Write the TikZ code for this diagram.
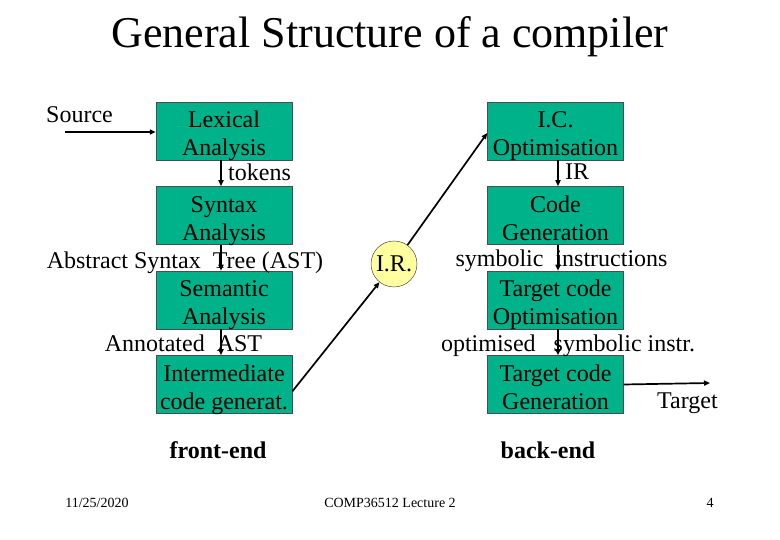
\documentclass[tikz,border=0pt]{standalone}
\usepackage{fontspec}
\setmainfont{Liberation Serif}
\usetikzlibrary{positioning,arrows.meta}
\definecolor{phasegreen}{RGB}{0,178,137}
\definecolor{iryellow}{RGB}{255,255,160}
\newcommand\phasetext[2]{\rule{0pt}{28pt}#1\\#2\rule[-6pt]{0pt}{6pt}}
\tikzset{
  phase/.style={draw=black!70, line width=0.5pt, fill=phasegreen, minimum width=136pt, minimum height=58pt, inner xsep=0pt, inner ysep=-2pt, align=center, font=\fontsize{24}{28}\selectfont},
  lbl/.style={inner sep=0pt, font=\fontsize{24}{28}\selectfont},
  flow/.style={line width=1.7pt, -{Triangle[length=6pt,width=5pt]}}
}
\begin{document}
\begin{tikzpicture}[x=1pt,y=1pt]
\useasboundingbox (0,0) rectangle (780,540);

\node[inner sep=0pt, anchor=base, font=\fontsize{44}{50}\selectfont] (title) at (390,492) {General Structure of a compiler};

\node[phase] (lex) at (224,409) {\phasetext{Lexical}{Analysis}};
\node[phase, below=26pt of lex] (syn) {\phasetext{Syntax}{Analysis}};
\node[phase, below=26pt of syn] (sem) {\phasetext{Semantic}{Analysis}};
\node[phase, below=26pt of sem] (inter) {\phasetext{Intermediate}{code generat.}};

\node[phase] (icopt) at (555.5,409) {\phasetext{I.C.}{Optimisation}};
\node[phase, below=26pt of icopt] (cgen) {\phasetext{Code}{Generation}};
\node[phase, below=26pt of cgen] (topt) {\phasetext{Target code}{Optimisation}};
\node[phase, below=26pt of topt] (tgen) {\phasetext{Target code}{Generation}};

\node[draw=black!70, line width=0.5pt, fill=iryellow, circle, minimum size=46pt, inner sep=0pt, font=\fontsize{24}{28}\selectfont] (ir) at (394,276) {I.R.};

\node[lbl, anchor=base west] (source) at (46,417) {Source};
\node[lbl, anchor=base west] (tokens) at (228,359) {tokens};
\node[lbl, anchor=base] (ast) at (185,271) {Abstract Syntax\ \ Tree (AST)};
\node[lbl, anchor=base] (aast) at (183.5,188) {Annotated\ \ AST};
\node[lbl, anchor=base west] (irlbl) at (565,360) {IR};
\node[lbl, anchor=base] (symb) at (561.5,273) {symbolic\ \ instructions};
\node[lbl, anchor=base] (osymb) at (568,188) {optimised\ \ \ symbolic instr.};
\node[lbl, anchor=base west] (target) at (657,131) {Target};

\node[lbl, anchor=base, font=\fontsize{24}{28}\selectfont\bfseries] (front) at (218,81) {front-end};
\node[lbl, anchor=base, font=\fontsize{24}{28}\selectfont\bfseries] (back) at (548,81) {back-end};

\node[inner sep=0pt, anchor=base, font=\fontsize{14}{16}\selectfont] (date) at (97,32) {11/25/2020};
\node[inner sep=0pt, anchor=base, font=\fontsize{14}{16}\selectfont] (lecture) at (390,32) {COMP36512 Lecture 2};
\node[inner sep=0pt, anchor=base, font=\fontsize{14}{16}\selectfont] (page) at (710,32) {4};

\coordinate (src) at (65,408);
\coordinate (tgt) at (710,157);

\draw[flow] (src) -- (lex.west|-src);
\draw[flow] ([xshift=-3pt]lex.south) -- ([xshift=-3pt]syn.north);
\draw[flow] ([xshift=-3pt]syn.south) -- ([xshift=-3pt]sem.north);
\draw[flow] ([xshift=-3pt]sem.south) -- ([xshift=-3pt]inter.north);
\draw[flow] ([yshift=-7pt]inter.east) -- (ir);
\draw[flow] (ir) -- ([yshift=-2pt]icopt.west);
\draw[flow] ([xshift=2.5pt]icopt.south) -- ([xshift=2.5pt]cgen.north);
\draw[flow] ([xshift=2.5pt]cgen.south) -- ([xshift=2.5pt]topt.north);
\draw[flow] ([xshift=2.5pt]topt.south) -- ([xshift=2.5pt]tgen.north);
\draw[flow] (tgen.east) -- (tgt);

\end{tikzpicture}
\end{document}
